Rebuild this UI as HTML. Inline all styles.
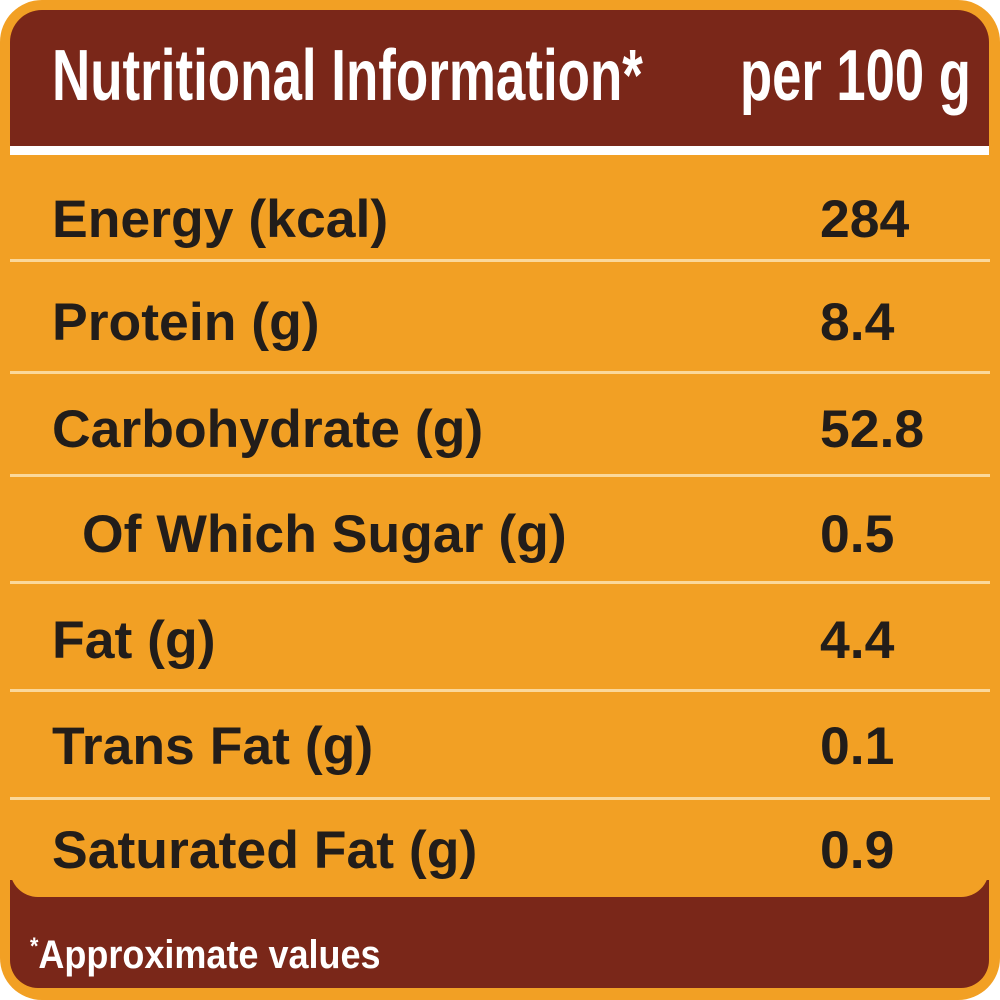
<!DOCTYPE html>
<html><head><meta charset="utf-8"><style>
html,body{margin:0;padding:0;background:#fff;}
#c{position:relative;width:1000px;height:1000px;overflow:hidden;background:#fff;}
.frame{position:absolute;left:0;top:0;width:1000px;height:1000px;background:#f2a024;border-radius:42px;}
.hdr{position:absolute;left:10px;top:10px;width:979px;height:136px;background:#7a2719;border-radius:32px 32px 0 0;}
.wline{position:absolute;left:10px;top:146px;width:979px;height:9px;background:#fff;}
.ftr{position:absolute;left:10px;top:880px;width:979px;height:108px;background:#7a2719;border-radius:0 0 28px 28px;}
.orcap{position:absolute;left:10px;top:840px;width:979px;height:57px;background:#f2a024;border-radius:0 0 28px 28px;}
.ln{position:absolute;left:10px;width:980px;height:3px;background:#fbd89a;}
.t{position:absolute;font-family:"Liberation Sans",sans-serif;font-weight:bold;white-space:nowrap;line-height:1;}
.r{font-size:53px;color:#221d1a;transform:scaleX(1.01);transform-origin:left top;}
.h{font-size:72px;color:#fff;transform-origin:left top;}
</style></head><body><div id="c">
<div class="frame"></div>
<div class="hdr"></div>
<div class="wline"></div>
<div class="ftr"></div>
<div class="orcap"></div>
<div class="ln" style="top:259px"></div>
<div class="ln" style="top:371px"></div>
<div class="ln" style="top:474px"></div>
<div class="ln" style="top:581px"></div>
<div class="ln" style="top:689px"></div>
<div class="ln" style="top:797px"></div>
<div class="t h" style="left:52px;top:40px;transform:scaleX(0.735)">Nutritional Information*</div>
<div class="t h" style="left:740px;top:40px;transform:scaleX(0.73)">per 100 g</div>
<div class="t r" style="left:52px;top:193px">Energy (kcal)</div>
<div class="t r" style="left:52px;top:296px">Protein (g)</div>
<div class="t r" style="left:52px;top:403px">Carbohydrate (g)</div>
<div class="t r" style="left:82px;top:508px">Of Which Sugar (g)</div>
<div class="t r" style="left:52px;top:614px">Fat (g)</div>
<div class="t r" style="left:52px;top:720px">Trans Fat (g)</div>
<div class="t r" style="left:52px;top:824px">Saturated Fat (g)</div>
<div class="t r" style="left:820px;top:193px">284</div>
<div class="t r" style="left:820px;top:296px">8.4</div>
<div class="t r" style="left:820px;top:403px">52.8</div>
<div class="t r" style="left:820px;top:508px">0.5</div>
<div class="t r" style="left:820px;top:614px">4.4</div>
<div class="t r" style="left:820px;top:720px">0.1</div>
<div class="t r" style="left:820px;top:824px">0.9</div>
<div class="t" style="left:30px;top:935px;font-size:40px;color:#fff;transform:scaleX(0.9);transform-origin:left top;"><span style="font-size:24px;vertical-align:top">*</span>Approximate values</div>
</div></body></html>
